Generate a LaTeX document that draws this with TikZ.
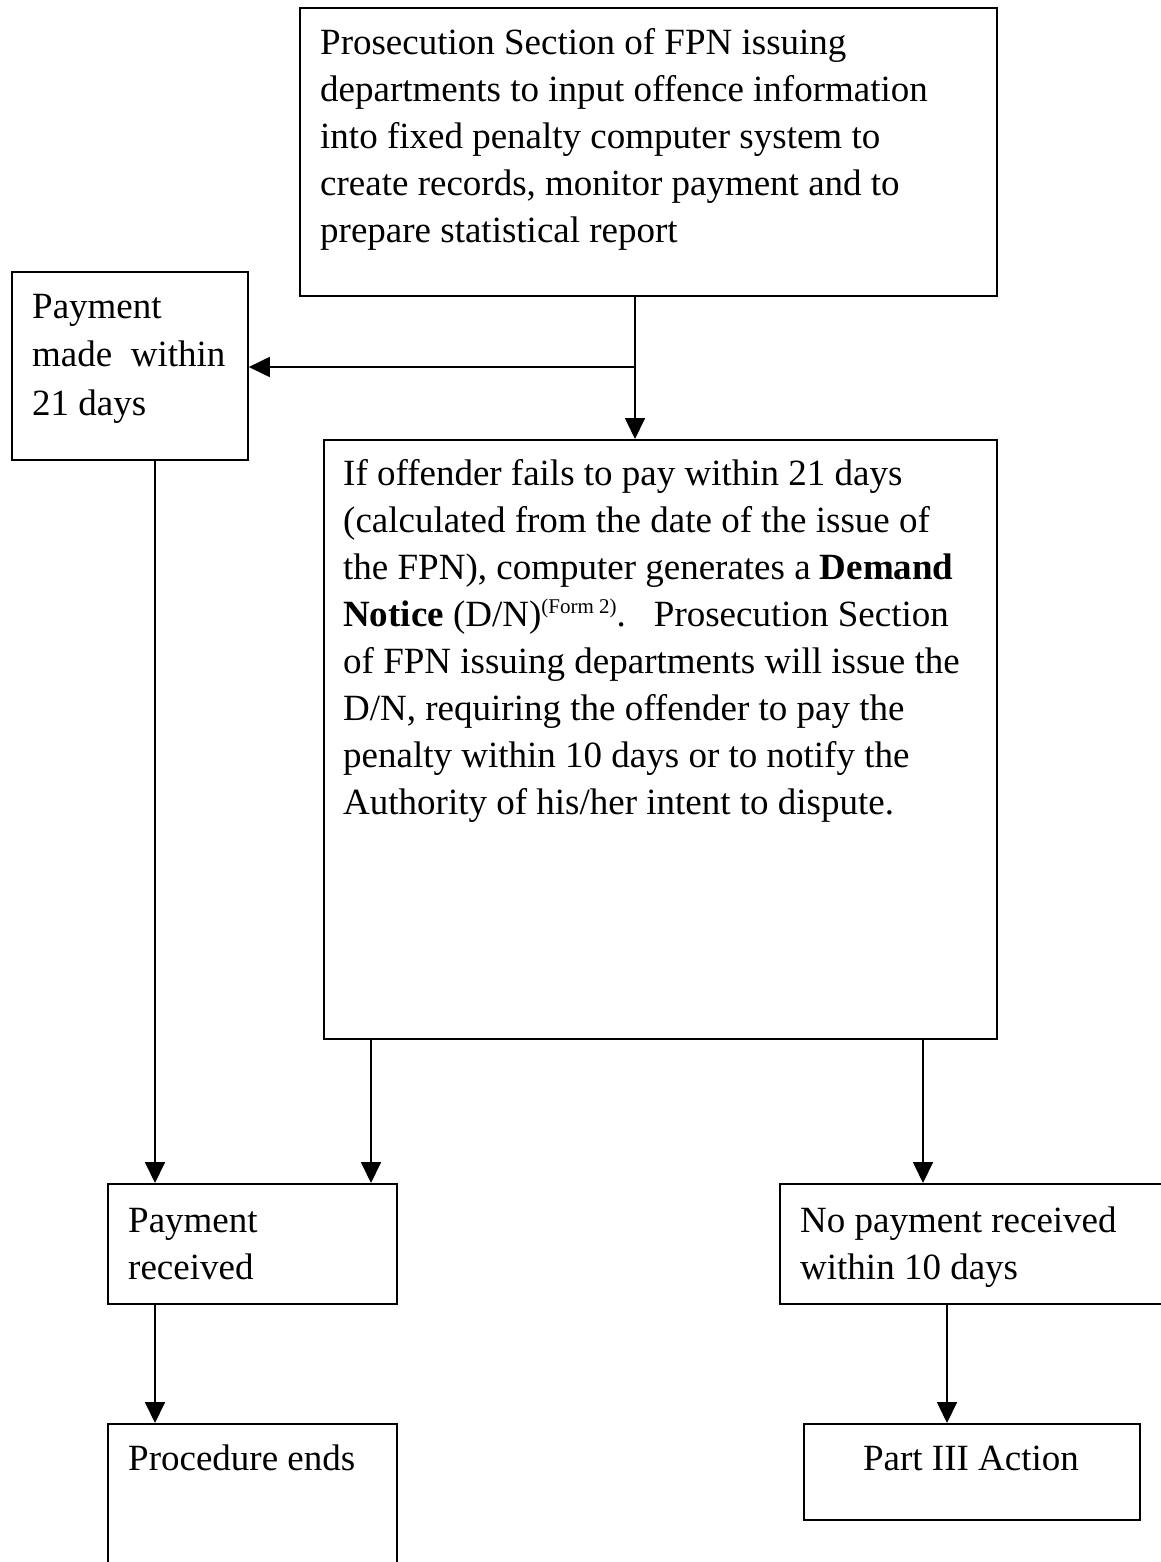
\documentclass[tikz,border=0pt]{standalone}
\usepackage{fontspec}
\setmainfont{Liberation Serif}
\usetikzlibrary{arrows.meta,calc}
\tikzset{
  boxnode/.style={draw, line width=1.8pt, inner sep=0pt, anchor=north west},
  txt/.style={inner sep=0pt, anchor=base west, font=\fontsize{37}{47}\selectfont},
  conn/.style={line width=1.8pt, -{Triangle[width=20pt,length=21pt]}},
  plain/.style={line width=1.8pt}
}
\newcommand\mysup[1]{\raisebox{13pt}{\fontsize{21}{21}\selectfont #1}}
\begin{document}
\begin{tikzpicture}[x=1pt,y=-1pt]
\useasboundingbox (0,0) rectangle (1160,1562);
% boxes
\node[boxnode, minimum width=697pt, minimum height=288pt] (top) at (299,7) {};
\node[boxnode, minimum width=236pt, minimum height=188pt] (pay) at (11,271) {};
\node[boxnode, minimum width=673pt, minimum height=599pt] (dn) at (323,439) {};
\node[boxnode, minimum width=289pt, minimum height=120pt] (recv) at (107,1183) {};
\node[boxnode, minimum width=400pt, minimum height=120pt] (nopay) at (779,1183) {};
\node[boxnode, minimum width=289pt, minimum height=160pt] (ends) at (107,1423) {};
\node[boxnode, minimum width=336pt, minimum height=96pt] (part) at (803,1423) {};
% texts
\node[txt] (ttop) at (320,55) {\parbox[t]{680pt}{\raggedright
Prosecution Section of FPN issuing\\
departments to input offence information\\
into fixed penalty computer system to\\
create records, monitor payment and to\\
prepare statistical report}};
\node[txt] (tpay) at (32,318) {\parbox[t]{220pt}{\raggedright\baselineskip=48.5pt
Payment\\
made\ \ within\\
21 days}};
\node[txt] (tdn) at (343,485) {\parbox[t]{660pt}{\raggedright
If offender fails to pay within 21 days\\
(calculated from the date of the issue of\\
the FPN), computer generates a \textbf{Demand}\\
\textbf{Notice} (D/N)\mysup{(Form 2)}.\hspace{28pt}Prosecution Section\\
of FPN issuing departments will issue the\\
D/N, requiring the offender to pay the\\
penalty within 10 days or to notify the\\
Authority of his/her intent to dispute.}};
\node[txt] (trecv) at (128,1232) {\parbox[t]{260pt}{\raggedright
Payment\\
received}};
\node[txt] (tnopay) at (800,1232) {\parbox[t]{360pt}{\raggedright
No payment received\\
within 10 days}};
\node[txt] (tends) at (128,1470) {Procedure ends};
\node[txt, anchor=base] (tpart) at (971,1470) {Part III Action};
% connectors
\coordinate (j) at (635,367);
\draw[plain] (top.south -| j) -- (j);
\draw[conn] (j) -- (j |- dn.north);
\draw[conn] (j) -- (pay.east |- j);
\coordinate (xa) at (155,0);
\coordinate (xb) at (371,0);
\coordinate (xc) at (923,0);
\coordinate (xd) at (947,0);
\draw[conn] (pay.south -| xa) -- (recv.north -| xa);
\draw[conn] (dn.south -| xb) -- (recv.north -| xb);
\draw[conn] (dn.south -| xc) -- (nopay.north -| xc);
\draw[conn] (recv.south -| xa) -- (ends.north -| xa);
\draw[conn] (nopay.south -| xd) -- (part.north -| xd);
\end{tikzpicture}
\end{document}
